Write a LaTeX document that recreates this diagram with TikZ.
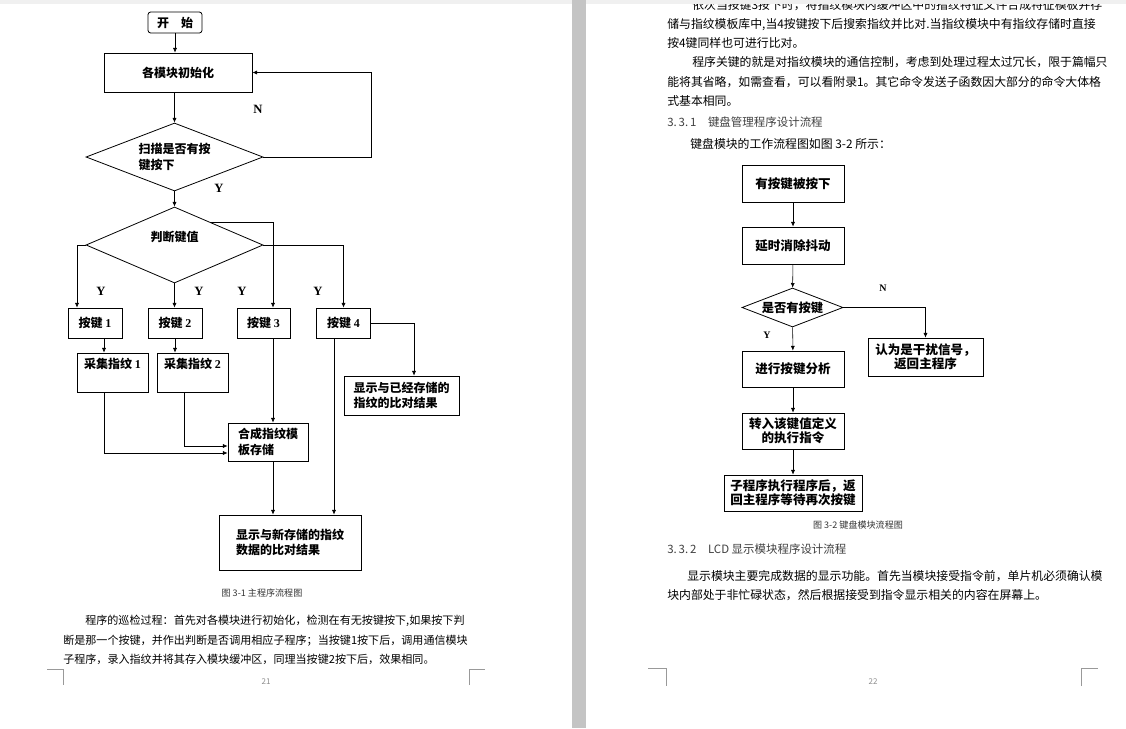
\documentclass[tikz,border=0pt]{standalone}
\usepackage{fontspec}
\setmainfont{Noto Sans CJK SC}
\newfontfamily\latin{Liberation Serif}
\usetikzlibrary{shapes.geometric,arrows.meta,positioning,calc}

\begin{document}
\begin{tikzpicture}[x=0.75pt,y=-0.75pt,>={Latex[length=3.5pt,width=3pt]},
   box/.style={draw,line width=0.6pt,rectangle,inner sep=1pt,align=left,
     font=\bfseries\fontsize{9}{11.5}\selectfont},
   decision/.style={draw,line width=0.6pt,diamond,inner sep=0pt,align=left,
     font=\bfseries\fontsize{9}{11.5}\selectfont},
   rbox/.style={box,font=\bfseries\fontsize{9.4}{10.5}\selectfont,align=center},
   yn/.style={font=\latin\bfseries\fontsize{9.5}{10}\selectfont},
   ynr/.style={font=\latin\bfseries\fontsize{7.5}{8}\selectfont},
   lpara/.style={anchor=base west,inner sep=0pt,font=\fontsize{8.3}{10}\selectfont},
   rpara/.style={anchor=base west,inner sep=0pt,font=\fontsize{8.9}{10}\selectfont},
   head/.style={anchor=base west,inner sep=0pt,text=black!75,font=\fontsize{8.6}{10}\selectfont},
   caption/.style={anchor=base,inner sep=0pt,text=black!80,font=\fontsize{6.8}{8}\selectfont},
   pagenum/.style={inner sep=0pt,text=black!45,font=\fontsize{6}{7}\selectfont},
   cropmark/.style={draw=black!40,line width=0.5pt}]
 \useasboundingbox (0,0) rectangle (1126,728);
 \fill[white] (0,0) rectangle (1126,728);

 % ---------------- page 21: main program flow chart
 \node[box,rounded corners=2pt,minimum width=40.5pt,minimum height=15.75pt] (start) at (175,22.5) {开\quad 始};
 \node[box,minimum width=111pt,minimum height=29.25pt] (init) at (178,72.5) {各模块初始化};
 \node[decision,aspect=2.6,minimum width=132.75pt,minimum height=51pt] (d1) at (174.5,157) {扫描是否有按\\键按下};
 \node[decision,aspect=2.33,minimum width=132.75pt,minimum height=57pt] (d2) at (174.5,245) {判断键值\\[2pt]};
 \node[box,minimum width=40.5pt,minimum height=22.5pt] (key1) at (95,323)    {按键 {\latin 1}};
 \node[box,minimum width=40.5pt,minimum height=22.5pt] (key2) at (175,323)   {按键 {\latin 2}};
 \node[box,minimum width=39.75pt,minimum height=22.5pt] (key3) at (263.5,323) {按键 {\latin 3}};
 \node[box,minimum width=40.5pt,minimum height=22.5pt] (key4) at (343.5,323) {按键 {\latin 4}};
 \node[box,minimum width=53.25pt,minimum height=29.25pt] (col1) at (112.5,372.5) {采集指纹 {\latin 1}\\[3pt]};
 \node[box,minimum width=53.25pt,minimum height=29.25pt] (col2) at (192.5,372.5) {采集指纹 {\latin 2}\\[3pt]};
 \node[box,minimum width=60pt,minimum height=28.5pt] (merge) at (268,442) {合成指纹模\\板存储};
 \node[box,minimum width=86.25pt,minimum height=29.25pt] (cmp1) at (401.5,395.5) {显示与已经存储的\\指纹的比对结果};
 \node[box,minimum width=106.5pt,minimum height=41.25pt] (cmp2) at (290,542.5) {显示与新存储的指纹\\数据的比对结果};
 % connector columns
 \coordinate (k1x) at (77,0);
 \coordinate (k1s) at (104,0);
 \coordinate (c2s) at (184,0);
 \coordinate (k3x) at (273,0);
 \coordinate (k4s) at (334,0);
 \coordinate (c1x) at (414,0);
 \draw[->] (start) -- (start |- init.north);
 \draw[->] (d1.north |- init.south) -- (d1.north);
 \draw[->] (d1.east) -- ++(108,0) |- (init.east);
 \draw[->] (d1.south) -- (d2.north);
 \draw[->] (d2.west) -| (k1x |- key1.north);
 \draw[->] (d2.south) -- (d2.south |- key2.north);
 \draw[->] ($(d2.north)!0.4!(d2.east)$) -| (k3x |- key3.north);
 \draw[->] (d2.east) -| (key4.north);
 \draw[->] (k1s |- key1.south) -- (k1s |- col1.north);
 \draw[->] (key2.south) -- (key2.south |- col2.north);
 \draw[->] (k1s |- col1.south) |- ([yshift=-8.25pt]merge.west);
 \draw[->] (c2s |- col2.south) |- ([yshift=-3pt]merge.west);
 \draw[->] (k3x |- key3.south) -- (k3x |- merge.north);
 \draw[->] (k3x |- merge.south) -- (k3x |- cmp2.north);
 \draw[->] (k4s |- key4.south) -- (k4s |- cmp2.north);
 \draw[->] (key4.east) -| (c1x |- cmp1.north);
 % Y / N labels
 \node[yn] (n1) at (258,109) {N};
 \node[yn] (y1) at (219,188) {Y};
 \foreach \x [count=\i] in {101,199,242,318}
   \node[yn] (yk\i) at (\x,291) {Y};

 \node[caption] (cap1) at (262,596) {图 3-1 主程序流程图};
 \node[lpara] (L1) at (85,624) {程序的巡检过程：首先对各模块进行初始化，检测在有无按键按下,如果按下判};
 \node[lpara] (L2) at (63,644) {断是那一个按键，并作出判断是否调用相应子程序；当按键1按下后，调用通信模块};
 \node[lpara] (L3) at (63,663) {子程序，录入指纹并将其存入模块缓冲区，同理当按键2按下后，效果相同。};
 \node[pagenum] (pg21) at (266,682) {21};
 \draw[cropmark] (47,669) -- (63,669) -- (63,685);
 \draw[cropmark] (469,685) -- (469,669) -- (485,669);

 % ---------------- page 22: keyboard flow chart
 \node[rpara] (R0) at (692,9)     {依次当按键3按下时，将指纹模块内缓冲区中的指纹特征文件合成特征模板并存};
 \node[rpara] (R1) at (667,28.3)  {储与指纹模板库中,当4按键按下后搜索指纹并比对.当指纹模块中有指纹存储时直接};
 \node[rpara] (R2) at (667,47.6)  {按4键同样也可进行比对。};
 \node[rpara] (R3) at (692,66.9)  {程序关键的就是对指纹模块的通信控制，考虑到处理过程太过冗长，限于篇幅只};
 \node[rpara] (R4) at (667,86.2)  {能将其省略，如需查看，可以看附录1。其它命令发送子函数因大部分的命令大体格};
 \node[rpara] (R5) at (667,105.5) {式基本相同。};
 \node[head]  (H1) at (667,126)   {3.\,3.\,1\quad 键盘管理程序设计流程};
 \node[rpara] (R6) at (690,148.5) {键盘模块的工作流程图如图 3-2 所示：};

 \node[rbox,minimum width=76.5pt,minimum height=27.75pt] (r1) at (793,183.5) {有按键被按下};
 \node[rbox,minimum width=76.5pt,minimum height=27.75pt] (r2) at (793,245.5) {延时消除抖动};
 \node[decision,aspect=2.6,minimum width=75.75pt,minimum height=29.25pt,
   font=\bfseries\fontsize{9.2}{10}\selectfont] (rd) at (792.5,307.5) {是否有按键};
 \node[rbox,minimum width=76.5pt,minimum height=27pt] (r3) at (793,369) {进行按键分析};
 \node[rbox,minimum width=76.5pt,minimum height=27pt] (r4) at (793,431) {转入该键值定义\\的执行指令};
 \node[rbox,minimum width=103.5pt,minimum height=27pt] (r5) at (793,493) {子程序执行程序后，返\\回主程序等待再次按键};
 \node[rbox,minimum width=86.25pt,minimum height=28.5pt] (rn) at (925.5,357) {认为是干扰信号，\\返回主程序};
 \draw[->] (r1) -- (r2);
 \draw[->] (r2) -- (rd);
 \draw[->] (rd) -- (r3);
 \draw[->] (r3) -- (r4);
 \draw[->] (r4) -- (r5);
 \draw[->] (rd.east) -| (rn.north);
 \node[ynr] (rnn) at (883,288) {N};
 \node[ynr] (ryy) at (767,335) {Y};

 \node[caption] (cap2) at (858,528) {图 3-2 键盘模块流程图};
 \node[head]  (H2) at (667,553)   {3.\,3.\,2\quad LCD 显示模块程序设计流程};
 \node[rpara] (R7) at (687,580.5) {显示模块主要完成数据的显示功能。首先当模块接受指令前，单片机必须确认模};
 \node[rpara] (R8) at (667,599.5) {块内部处于非忙碌状态，然后根据接受到指令显示相关的内容在屏幕上。};
 \node[pagenum] (pg22) at (873,682) {22};
 \draw[cropmark] (648,668) -- (666,668) -- (666,686);
 \draw[cropmark] (1081,686) -- (1081,668) -- (1098,668);

 % window chrome: top strip and page gap
 \fill[black!6] (0,0) rectangle (1126,4);
 \fill[black!23] (572,0) rectangle (586,728);
\end{tikzpicture}
\end{document}
